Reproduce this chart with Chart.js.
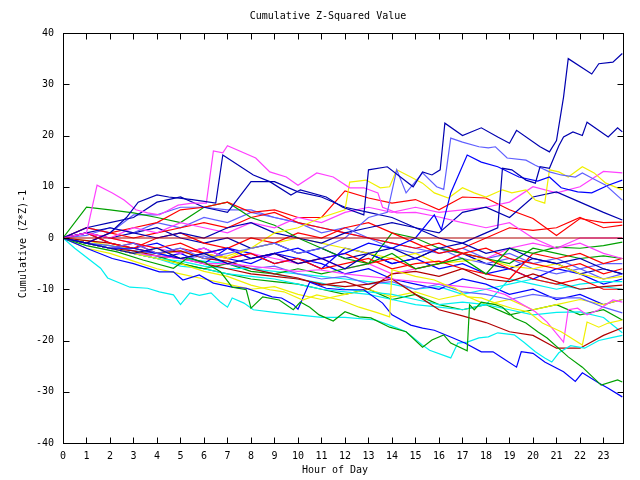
<!DOCTYPE html>
<html>
<head>
<meta charset="utf-8">
<script src="https://cdn.jsdelivr.net/npm/chart.js@4.4.0/dist/chart.umd.min.js"></script>
<style>
  html, body { margin: 0; padding: 0; background: #fff; }
  #wrap { width: 640px; height: 480px; }
</style>
</head>
<body>
<div id="wrap"><canvas id="zChart" width="640" height="480"></canvas></div>
<script>
// hour of day (last sample just before midnight)
const hours = [0,1,2,3,4,5,6,7,8,9,10,11,12,13,14,15,16,17,18,19,20,21,22,23,23.8];
const xTicks = [0,1,2,3,4,5,6,7,8,9,10,11,12,13,14,15,16,17,18,19,20,21,22,23];
const yTicks = [-40,-30,-20,-10,0,10,20,30,40];

// runs traced point by point as [hour, cumulative (z*z)-1] (the ones with sharp jumps)
const runA = [[0,0],[1,-1],[2,1],[2.7,4],[3.2,7],[4,8.4],[4.5,8],[5.5,7.5],[6.5,6.8],[6.8,16.2],[8.1,12.3],[8.8,11],[9.7,8.4],[10.1,9.4],[11.2,8],[11.9,6],[12.8,4.5],[13,13.3],[13.8,13.9],[14.9,10],[15.3,12.9],[15.7,12.3],[16.05,13.3],[16.25,22.4],[17,20],[17.8,21.5],[18.5,19.7],[19,18.5],[19.3,21],[20.3,17.8],[20.7,16.8],[21,19],[21.3,27.5],[21.5,35],[22.5,32],[22.8,34],[23.4,34.3],[23.8,36]];
const runB = [[0,0],[1,-1],[2,-2],[3,-3],[4,-2],[5,-4],[6,-3],[7,-5],[8,-4],[9,-3],[10,-5],[11,-4],[12,-6],[13,-3],[14,-2],[15,-4],[16,-2],[17,-1],[18,1],[18.5,2],[18.7,13.6],[19.1,13.3],[19.7,11.3],[20.1,10.7],[20.3,13.9],[20.7,13.6],[21.1,18],[21.3,19.7],[21.7,20.7],[22.1,20],[22.3,22.6],[23.2,19.7],[23.6,21.5],[23.8,20.7]];
const runC = [[0,0],[1,-1],[2,-2],[3,-1],[4,-3],[5,-2],[6,-4],[7,-3],[8,-2],[9,-1],[10,-3],[11,-2],[12,0],[13,4],[13.8,5],[14.2,13.3],[14.6,8.8],[15.3,12.7],[15.9,10],[16.2,9.5],[16.5,19.5],[17,18.7],[17.7,17.8],[18.1,17.6],[18.4,17.8],[18.9,15.6],[19.7,15.2],[20.1,14.2],[20.7,12.9],[21.2,12.3],[21.8,11.9],[22.1,12.7],[22.5,11.7],[23.1,10.3],[23.8,7.4]];
const runB2 = [[0,0],[1,-1],[2,-2],[3,-2],[4,-3],[5,-4],[6,-3],[7,-2],[8,-4],[9,-3],[10,-2],[11,-4],[12,-3],[13,-1],[14,-2],[15,0],[15.8,4.5],[16.1,1.6],[16.5,8.8],[17.2,16.2],[17.8,14.8],[18.5,13.9],[19.4,11.9],[20.2,11.1],[20.7,11.9],[21.2,9.8],[21.9,9],[22.5,8.8],[23.2,10.3],[23.8,11.3]];
const runM1 = [[0,0],[1,1],[1.45,10.3],[2.1,8.8],[2.6,7.4],[3.1,5.5],[3.6,4.9],[4.1,4.5],[4.9,6.4],[5.5,6.8],[6.1,6.8],[6.4,17],[6.8,16.6],[7,18],[8.2,15.6],[8.8,12.9],[9.5,11.9],[10,10.3],[10.8,12.7],[11.5,11.9],[12.2,9.8],[12.8,9.8],[13.4,8.8],[13.6,6],[14.2,4.9],[15,5],[16,4.1],[16.9,3.1],[18,2],[19,3],[20,0],[21,-2],[22,-1],[23,-3],[23.8,-4]];
const runY1 = [[0,0],[1,-1],[2,-2],[3,-3],[4,-2],[5,-4],[6,-3],[7,-4],[8,-2],[9,1],[10,2],[11,4],[12,5.5],[12.2,10.9],[12.9,11.3],[13.5,9.8],[13.9,10],[14.2,13.3],[14.8,11.9],[15.3,10.7],[15.8,8.8],[16.4,7.8],[17,9.8],[17.5,8.8],[18,8],[18.7,9.4],[19.1,8.8],[19.7,9.4],[20.1,7.4],[20.5,6.8],[20.7,13.3],[21.1,12.9],[21.5,11.9],[22.1,13.9],[22.6,12.7],[23.1,10.7],[23.8,9.4]];
const runG2 = [[0,0],[1,-1.5],[2.3,-2.7],[3.4,-4.3],[4.7,-5.9],[5.3,-3.9],[6,-4.7],[6.7,-6.6],[7.2,-9.6],[7.8,-10.1],[8,-13.7],[8.5,-11.5],[9.2,-12.1],[9.8,-14],[10.1,-12.5],[10.5,-13.5],[10.9,-15],[11.5,-16.2],[12,-14.4],[12.6,-15.4],[13.1,-15.6],[13.9,-17.4],[14.6,-18.3],[15.3,-21.3],[15.7,-19.9],[16.2,-18.9],[16.5,-20.5],[17.2,-22],[17.3,-13],[17.5,-14],[17.8,-12.5],[18.4,-13],[18.7,-13.5],[19.2,-15.6],[19.7,-16.6],[20.2,-18.3],[20.6,-19.5],[21.5,-23.2],[22.1,-25.2],[22.9,-28.7],[23.6,-27.7],[23.8,-28.1]];
const runY2 = [[0,0],[1,-1],[2,-2],[3,-3],[4,-4],[5,-5],[6,-6.5],[7,-7.5],[8,-9.2],[8.8,-10.1],[9.4,-10.5],[10.2,-12.1],[10.8,-11.1],[11.8,-12.1],[12.6,-13.5],[13.4,-14.6],[13.9,-15.4],[14,-6.2],[15,-7.5],[15.8,-8.2],[16.3,-9.2],[16.7,-9.8],[17.2,-11.5],[17.8,-11.7],[18.4,-12.7],[19.1,-13.7],[19.8,-14.4],[20.4,-16.6],[21.2,-18.3],[22.1,-20.9],[22.3,-16.4],[22.8,-17.4],[23.2,-16.6],[23.8,-16]];
const runM3 = [[0,0],[1,-1],[2,-2],[3,-3],[4,-3.5],[5,-4],[6,-5],[7,-5],[8,-5.5],[9,-6],[10,-6.5],[10.9,-6.2],[12,-7],[13,-7.5],[14,-8],[15,-8.5],[16,-9],[17,-9.5],[18,-10],[18.8,-11],[20.1,-14.4],[20.6,-16.4],[21.3,-20.3],[21.5,-14],[21.9,-13.7],[22.3,-15],[22.8,-14],[23.4,-12.1],[23.8,-12.5]];
const runD = [[0,0],[1,-2],[2.1,-4],[3,-5],[4.1,-6.6],[4.7,-6.6],[5.1,-8.2],[5.8,-7.2],[6.4,-8.8],[6.8,-9.2],[7.2,-9.6],[7.8,-9.8],[8.4,-10.7],[8.9,-11.5],[9.3,-11.7],[9.8,-13],[10,-13.9],[10.5,-8.6],[11.2,-9.8],[11.9,-10.1],[12.8,-10.1],[13.6,-12.7],[14,-15],[14.8,-17],[15.3,-17.6],[15.8,-18],[16.6,-19.5],[17.1,-20.5],[17.8,-22.2],[18.3,-22.2],[18.7,-23.4],[19.3,-25.2],[19.5,-22.2],[20,-22.5],[20.5,-24.2],[21.3,-26.1],[21.8,-28],[22.1,-26.3],[22.8,-28.3],[23.2,-29.3],[23.8,-31]];
const runCy1 = [[0,0],[0.5,-2],[1.6,-5.9],[1.9,-7.8],[2.85,-9.6],[3.6,-9.8],[4.1,-10.5],[4.7,-11.1],[5,-13],[5.4,-10.7],[5.8,-11.2],[6.3,-10.7],[6.7,-12.5],[7,-13.5],[7.2,-11.7],[7.7,-12.7],[8.1,-14],[9,-14.5],[10,-15],[11,-15.5],[12,-15.5],[13.3,-16],[13.9,-17],[14.6,-18.3],[15.3,-20.9],[15.6,-21.9],[16.5,-23.4],[16.8,-20.5],[17.2,-20.3],[17.7,-19.5],[18.1,-19.3],[18.5,-18.5],[19.2,-18.9],[19.6,-20.3],[20.1,-22.2],[20.5,-23.4],[20.8,-24.2],[21.1,-22.4],[21.6,-21],[22.2,-21.5],[22.8,-20],[23.3,-19.5],[23.8,-19]];

// runs read hour by hour (values line up with hours)
const zeroRun = [0,0,0,0,0,0,0,0,0,0,0,0,0,0,0,0,0,0,0,0,0,0,0,0,0];
const runD2 = [0,1,2,1,0,1,0,2,3,1,0,-1,1,2,3,2,1,5,6,4,8,9,7,5,3.5];
const runE  = [0,2,3,4,7,8,6,5,11,11,9,8,6,5,4,2,0,-1,-3,-2,-4,-5,-4,-6,-7];
const runM2 = [0,1,0,2,1,3,2,1,3,2,4,3,5,6,5,6,5,5.5,6,7,10,8.8,10,13,12.7];
const runR1 = [0,-1,1,2,3,5.5,6,7,5,5.5,4,4,9.2,7.8,6.8,7.5,5.5,8,7.8,5.5,3.8,0.5,3.8,3,3.1];
const runG1 = [0,6,5.5,4.9,4,3,6,7,4,2.5,0,-2,-4,-5,-3,-6,-5,-4,-7,-2,-3,-1.8,-2,-1.5,-0.8];
const runR2 = [0,1,-1,-2,0,1,-1,-2,0,-1,1,0,2,3,1,-1,-3,-2,0,2,1.5,2,4,2,2.5];
const runDR1 = [0,-1,-2,-2.5,-3.5,-4,-5,-6,-7,-7.5,-8,-9,-9.5,-9,-8,-11,-14,-15.2,-16.5,-18.3,-19,-21.5,-21.5,-19,-17.5];
const runDR2 = [0,-0.5,-1,-2,-3,-2.5,-4,-4.5,-6,-7,-7.8,-9.2,-8.5,-10,-7,-6.5,-7.5,-6,-8,-8.5,-7,-8.5,-10,-9.5,-9.2];
const runCy2 = [0,-1,-2,-3,-4,-4.5,-5.5,-6,-5.9,-7,-8,-8.8,-10,-10.5,-11,-12,-13,-12.5,-13,-14,-15,-14.5,-14.4,-15.5,-18.5];
const runLB2 = [0,-1,-1.5,-2.5,-3,-4,-3.5,-5,-6,-5.5,-7,-8,-7.5,-9,-8.5,-10,-9,-10.5,-11,-12,-11,-11.7,-11.7,-13.5,-14.6];
const runR3 = [0,1,0,-1,-2,-1,-3,-2,-4,-3,-5,-4,-3,-5,-4,-6,-5,-3,-4,-6,-8,-9,-8,-10,-10];
const runR4 = [0,2,1,0,1,2,3,2,4,5,3,2,1,0,-1,-2,-1,-3,-2,-4,-5,-6,-5,-7,-6];
const runR6 = [0,-1,-2,-1,-3,-2,-3,-4,-3,-5,-4,-6,-5,-4,-6,-5,-4.5,-6,-7,-8,-3,-4,-3,-5,-4];
const runG3 = [0,-1,-2,-3,-3.5,-5,-6,-5,-6.5,-7,-6,-7,-6,-5,1,0,-2,-3,-4,-5,-2,-3,-4,-3.5,-4];
const runCy3 = [0,-1,-2,-3,-4,-5.5,-6,-7,-7.5,-8,-9,-10,-10.5,-11,-12,-13,-13.5,-14,-13,-8,-9,-10,-9,-8.5,-8.5];
const runY3 = [0,-0.5,-1.5,-2,-3,-2.5,-4,-3.5,-2,-1,0,-1,-2,-3,-4,-3,-5,-4.5,-4,-5.5,-6,-5,-7,-8,-7.5];
const runY4 = [0,-2,-3,-4.5,-6,-7,-8,-9,-10,-9.5,-11,-12,-11,-10,-11.5,-10.5,-12,-11,-13,-12,-14,-13,-12,-13,-12];
const runM5 = [0,1,0,-1,-2,-3,-2,-4,-3,-4,-5,-4,-6,-5,-7,-6,-5,-3,-4,-2,-1,-2,0,0,0];
const runLB3 = [0,0.5,2,1,3,2,4,3,5,4,3,1,2,0,-1,-2,-3,-2,-4,-3,-5,-4,-6,-5,-5];
const runLB4 = [0,2,1,4.5,4.5,6,6,5.5,5.5,4,3,2,1,0,-2,-3,-2,-4,-5,-4,-6,-7,-6,-8,-7];
const runB5 = [0,-1,-2,-3,-4,-3,-5,-2,-3,-5,-4,-6,-2,-3,-5,-4,-6,-5,-7,-6,-8,-6,-7,-9,-8];
const runB6 = [0,1,-1,-2,-1,-3,-2,-4,-5,-3,-4,-5,-7,-6,-8,-9,-10,-8,-9,-11,-10,-12,-11,-13,-12];
const runDB7 = [0,1,0,1,2,0,-1,0,-2,-1,-3,-2,-4,-3,-5,-4,-2,-3,-5,-6,-4,-5,-7,-6,-7];
const runG4 = [0,-1,-2,-3,-4,-5,-6,-7,-8,-8.5,-9,-10,-11,-10,-12,-11,-13,-14,-13,-15,-14,-13,-15,-14,-16];
const runCy4 = [0,-1,-1.5,-2.5,-3,-4,-4.5,-5,-6,-6.5,-7,-7.5,-8,-8.5,-9,-10,-9.5,-11,-10,-9,-8,-9,-10,-9.5,-10];

const RED = '#ff0000', GREEN = '#00a000', BLUE = '#0000ff', MAGENTA = '#ff40ff',
      CYAN = '#00f0f0', YELLOW = '#f0f000', DKBLUE = '#0000b0', LTBLUE = '#6060ff', DKRED = '#b00000';

const tracedRuns = [
  [runA, DKBLUE], [runB, DKBLUE], [runC, LTBLUE], [runB2, BLUE], [runM1, MAGENTA], [runY1, YELLOW],
  [runG2, GREEN], [runY2, YELLOW], [runM3, MAGENTA], [runD, BLUE], [runCy1, CYAN]
];
const hourlyRuns = [
  [runD2, DKBLUE], [runE, DKBLUE], [runM2, MAGENTA], [runR1, RED], [runG1, GREEN], [runR2, RED],
  [runDR1, DKRED], [runDR2, DKRED], [runCy2, CYAN], [runLB2, LTBLUE], [runR3, RED], [runR4, RED],
  [runR6, RED], [runG3, GREEN], [runCy3, CYAN], [runY3, YELLOW], [runY4, YELLOW], [runM5, MAGENTA],
  [runLB3, LTBLUE], [runLB4, LTBLUE], [runB5, BLUE], [runB6, BLUE], [runDB7, DKBLUE], [runG4, GREEN],
  [runCy4, CYAN]
];

const FONT = '"DejaVu Sans Mono", monospace';

function lineSet(points, color) {
  return { data: points, borderColor: color, borderWidth: 1.2, pointRadius: 0, tension: 0, fill: false };
}

const datasets = [lineSet(zeroRun.map((v, i) => ({ x: hours[i], y: v })), DKRED)]
  .concat(tracedRuns.map(([pts, c]) => lineSet(pts.map(([h, v]) => ({ x: h, y: v })), c)))
  .concat(hourlyRuns.map(([vals, c]) => lineSet(vals.map((v, i) => ({ x: hours[i], y: v })), c)));

// frame, inward tick marks and the three labels, gnuplot style
const framePlugin = {
  id: 'frame',
  afterDraw(chart) {
    const { ctx, chartArea: a, scales } = chart;
    ctx.save();
    ctx.strokeStyle = '#000';
    ctx.lineWidth = 1;
    const L = Math.round(a.left) + 0.5, R = Math.round(a.right) + 0.5;
    const T = Math.round(a.top) + 0.5, B = Math.round(a.bottom) + 0.5;
    ctx.strokeRect(L, T, R - L, B - T);
    ctx.beginPath();
    xTicks.forEach(h => {
      const x = Math.round(scales.x.getPixelForValue(h)) + 0.5;
      ctx.moveTo(x, B); ctx.lineTo(x, B - 6);
      ctx.moveTo(x, T); ctx.lineTo(x, T + 6);
    });
    yTicks.forEach(v => {
      const y = Math.round(scales.y.getPixelForValue(v)) + 0.5;
      ctx.moveTo(L, y); ctx.lineTo(L + 6, y);
      ctx.moveTo(R, y); ctx.lineTo(R - 6, y);
    });
    ctx.stroke();

    ctx.fillStyle = '#000';
    ctx.font = '10px ' + FONT;
    ctx.textAlign = 'center';
    ctx.textBaseline = 'middle';
    ctx.fillText('Cumulative Z-Squared Value', 328, 16);
    ctx.fillText('Hour of Day', 335, 470);
    ctx.translate(23, 244);
    ctx.rotate(-Math.PI / 2);
    ctx.fillText('Cumulative (Z*Z)-1', 0, 0);
    ctx.restore();
  }
};

new Chart(document.getElementById('zChart').getContext('2d'), {
  type: 'line',
  data: { datasets },
  options: {
    responsive: false,
    animation: false,
    layout: { padding: { top: 33, right: 17, left: 0, bottom: 0 } },
    plugins: {
      legend: { display: false },
      tooltip: { enabled: false },
      title: { display: false }
    },
    scales: {
      x: {
        type: 'linear',
        min: 0,
        max: 23.83,
        grid: { display: false, drawTicks: false, tickLength: 0 },
        border: { display: false },
        afterBuildTicks: s => { s.ticks = xTicks.map(v => ({ value: v })); },
        afterFit: s => { s.height = 37; },
        ticks: {
          autoSkip: false,
          maxRotation: 0,
          padding: 7,
          color: '#000',
          font: { family: FONT, size: 10 }
        }
      },
      y: {
        min: -40,
        max: 40,
        grid: { display: false, drawTicks: false, tickLength: 0 },
        border: { display: false },
        afterBuildTicks: s => { s.ticks = yTicks.map(v => ({ value: v })); },
        afterFit: s => { s.width = 63; },
        ticks: {
          padding: 9,
          color: '#000',
          font: { family: FONT, size: 10 }
        }
      }
    }
  },
  plugins: [framePlugin]
});
</script>
</body>
</html>
